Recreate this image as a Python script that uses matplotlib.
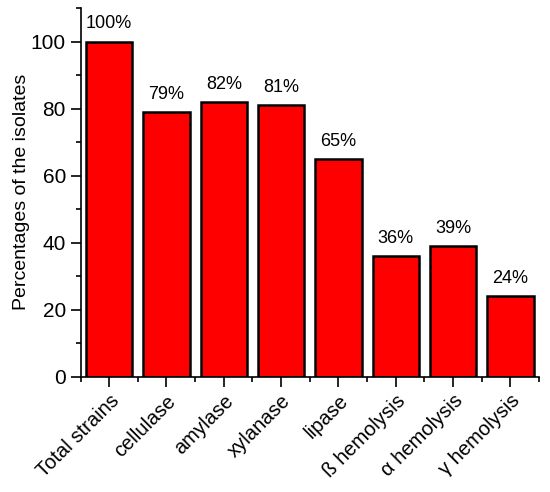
import numpy as np
from matplotlib import pyplot as plt
from matplotlib.ticker import MultipleLocator

categories = ['Total strains', 'cellulase', 'amylase', 'xylanase', 'lipase',
              'ß hemolysis', 'α hemolysis', 'γ hemolysis']
percentages = [100, 79, 82, 81, 65, 36, 39, 24]

plt.rcParams['font.family'] = ['Liberation Sans', 'DejaVu Sans']

fig = plt.figure(figsize=(5.5, 4.92), dpi=100)
ax = fig.add_axes([0.1464, 0.2343, 0.8336, 0.7494])

x = np.arange(len(categories))
ax.bar(x, percentages, width=0.81, color='#ff0000', edgecolor='black', linewidth=1.8)

for xi, v in zip(x, percentages):
    ax.text(xi, v + 2.7, f'{v}%', ha='center', va='bottom', fontsize=13)

ax.set_xlim(-0.5, len(categories) - 0.5)
ax.set_ylim(0, 110)
ax.yaxis.set_major_locator(MultipleLocator(20))
ax.yaxis.set_minor_locator(MultipleLocator(10))
ax.set_xticks(x)
ax.set_xticks(np.arange(-0.5, len(categories), 1), minor=True)
ax.set_xticklabels(categories, rotation=45, ha='right', rotation_mode='anchor', fontsize=14.5)
ax.tick_params(axis='y', labelsize=15)
ax.tick_params(which='major', direction='out', length=7, width=1.2)
ax.tick_params(which='minor', direction='out', length=3.5, width=1.2)

for s in ['top', 'right']:
    ax.spines[s].set_visible(False)
for s in ['left', 'bottom']:
    ax.spines[s].set_linewidth(1.2)

ax.set_ylabel('Percentages of the isolates', fontsize=14)
ax.yaxis.set_label_coords(-0.11, 0.5)

fig.savefig('out.png', dpi=100)
